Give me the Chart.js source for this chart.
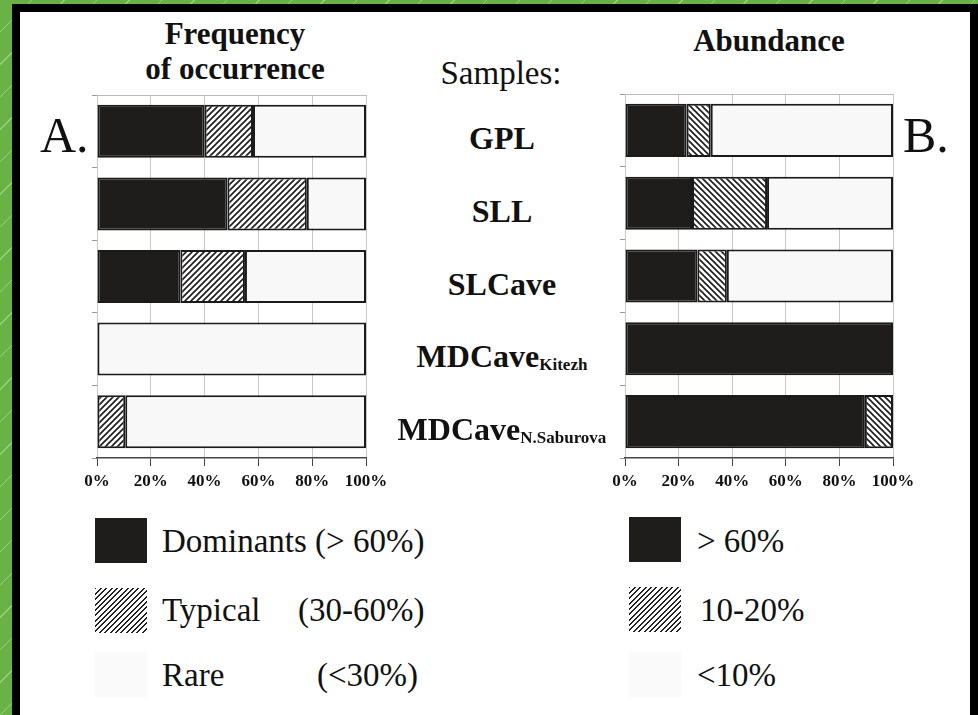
<!DOCTYPE html>
<html>
<head>
<meta charset="utf-8">
<script src="https://cdn.jsdelivr.net/npm/chart.js@4.4.1/dist/chart.umd.min.js"></script>
<style>
html, body { margin: 0; padding: 0; }
body {
  width: 978px; height: 715px; overflow: hidden; position: relative;
  background: #69b245 repeating-linear-gradient(135deg, rgba(255,255,255,0) 0 22px, rgba(210,245,190,0.45) 22px 23px);
}
#panel { position: absolute; left: 12px; top: 4px; width: 966px; height: 740px; box-sizing: border-box; border: 8px solid #000; background: #fff; }
.t { position: absolute; font-family: "Liberation Serif", "Times New Roman", serif; color: #111; white-space: nowrap; line-height: 1; }
.c { transform: translate(-50%, -50%); }
.m { transform: translateY(-50%); }
.b { font-weight: bold; }
.cat sub { font-size: 17px; vertical-align: baseline; position: relative; top: 3px; }
canvas { position: absolute; }
.sw { position: absolute; width: 52px; height: 45px; }
.dark { background: #1f1c1c; }
.hatch { background: repeating-linear-gradient(135deg, #222 0 1.4px, #fff 1.4px 3.8px); }
.rare { background: #fafafa; }
</style>
</head>
<body>
<div id="panel"></div>

<div class="t b c" style="left:235px; top:33px; font-size:31px;">Frequency</div>
<div class="t b c" style="left:235px; top:68px; font-size:31px;">of occurrence</div>
<div class="t c" style="left:501px; top:73px; font-size:33px;">Samples:</div>
<div class="t b c" style="left:769px; top:40px; font-size:31px;">Abundance</div>

<div class="t" style="left:40px; top:110px; font-size:50px;">A.</div>
<div class="t" style="left:903px; top:110px; font-size:50px;">B.</div>

<canvas id="chartA" width="340" height="450" style="left:60px; top:60px;"></canvas>
<canvas id="chartB" width="340" height="450" style="left:590px; top:60px;"></canvas>
<div id="cats"></div>

<div class="sw dark" style="left:95px; top:518px;"></div>
<div class="sw hatch" style="left:95px; top:588px;"></div>
<div class="sw rare" style="left:95px; top:652px;"></div>
<div class="t m" style="left:162px; top:541px; font-size:33px;">Dominants (&gt; 60%)</div>
<div class="t m" style="left:162px; top:610px; font-size:33px;">Typical</div>
<div class="t m" style="left:298px; top:610px; font-size:33px;">(30-60%)</div>
<div class="t m" style="left:162px; top:675px; font-size:33px;">Rare</div>
<div class="t m" style="left:317px; top:675px; font-size:33px;">(&lt;30%)</div>

<div class="sw dark" style="left:629px; top:517px;"></div>
<div class="sw hatch" style="left:629px; top:587px;"></div>
<div class="sw rare" style="left:629px; top:652px;"></div>
<div class="t m" style="left:697px; top:541px; font-size:33px;">&gt; 60%</div>
<div class="t m" style="left:700px; top:610px; font-size:33px;">10-20%</div>
<div class="t m" style="left:697px; top:675px; font-size:33px;">&lt;10%</div>

<script>
// samples (top to bottom), name + subscript
const sampleNames = ['GPL', 'SLL', 'SLCave', 'MDCave', 'MDCave'];
const sampleSubs = ['', '', '', 'Kitezh', 'N.Saburova'];

// A. frequency of occurrence, % of species
const freqDominant = [40, 48.5, 31, 0, 0];
const freqTypical = [18, 29.5, 24, 0, 10.5];
const freqRare = [42, 22, 45, 100, 89.5];

// B. abundance, % of individuals
const abundHigh = [23, 25, 27, 100, 89.5];
const abundMid = [9, 28, 11, 0, 10.5];
const abundLow = [68, 47, 62, 0, 0];

const xTicks = [0, 20, 40, 60, 80, 100];

const labels = sampleNames.map((n, i) => n + sampleSubs[i]);

function hatch(dir) {
  const c = document.createElement('canvas');
  c.width = c.height = 6;
  const g = c.getContext('2d');
  g.fillStyle = '#fff';
  g.fillRect(0, 0, 6, 6);
  g.strokeStyle = '#1a1a1a';
  g.lineWidth = 1.6;
  g.beginPath();
  if (dir > 0) {
    g.moveTo(0, 6); g.lineTo(6, 0);
    g.moveTo(-1, 1); g.lineTo(1, -1);
    g.moveTo(5, 7); g.lineTo(7, 5);
  } else {
    g.moveTo(0, 0); g.lineTo(6, 6);
    g.moveTo(-1, 5); g.lineTo(1, 7);
    g.moveTo(5, -1); g.lineTo(7, 1);
  }
  g.stroke();
  return g.createPattern(c, 'repeat');
}

const DARK = '#1f1c1c';
const LIGHT = '#f8f8f8';

function seg(label, data, fill) {
  return {
    label: label,
    data: data,
    backgroundColor: fill,
    borderColor: '#1a1a1a',
    borderWidth: 2,
    borderSkipped: false,
    barPercentage: 0.73,
    categoryPercentage: 1
  };
}

function makeChart(id, datasets, pad) {
  return new Chart(document.getElementById(id), {
    type: 'bar',
    data: { labels: labels, datasets: datasets },
    options: {
      indexAxis: 'y',
      responsive: false,
      animation: false,
      layout: { padding: pad },
      plugins: { legend: { display: false }, tooltip: { enabled: false } },
      scales: {
        x: {
          stacked: true,
          min: 0,
          max: 100,
          afterBuildTicks: s => { s.ticks = xTicks.map(v => ({ value: v })); },
          ticks: {
            callback: v => v + '%',
            color: '#111',
            maxRotation: 0,
            padding: 5,
            font: { family: 'Liberation Serif', size: 17, weight: 'bold' }
          },
          grid: { color: '#c8c8c8', tickColor: '#444', tickLength: 8, lineWidth: 1 },
          border: { color: '#444', width: 1.5 },
          afterFit: s => { s.height = 40; }
        },
        xTop: {
          axis: 'x',
          position: 'top',
          display: true,
          min: 0,
          max: 100,
          ticks: { display: false },
          grid: { display: false },
          border: { color: '#bbb', width: 1 },
          afterFit: s => { s.height = 0; }
        },
        y: {
          stacked: true,
          ticks: { display: false },
          grid: { drawOnChartArea: false, color: '#999', tickLength: 5, offset: true },
          border: { display: false },
          afterFit: s => { s.width = 5; }
        }
      }
    }
  });
}

const chartA = makeChart('chartA', [
  seg('Dominants (> 60%)', freqDominant, DARK),
  seg('Typical (30-60%)', freqTypical, hatch(1)),
  seg('Rare (<30%)', freqRare, LIGHT)
], { left: 32, right: 34, top: 35, bottom: 12 });

const chartB = makeChart('chartB', [
  seg('> 60%', abundHigh, DARK),
  seg('10-20%', abundMid, hatch(-1)),
  seg('<10%', abundLow, LIGHT)
], { left: 30, right: 37, top: 34, bottom: 12 });

// sample names in the middle, aligned with the bars
const cats = document.getElementById('cats');
const yScale = chartA.scales.y;
sampleNames.forEach((n, i) => {
  const d = document.createElement('div');
  d.className = 't b c cat';
  d.style.left = '502px';
  d.style.top = (60 + yScale.getPixelForValue(i) + 7) + 'px';
  d.style.fontSize = '32px';
  d.innerHTML = n + (sampleSubs[i] ? '<sub>' + sampleSubs[i] + '</sub>' : '');
  cats.appendChild(d);
});
</script>
</body>
</html>
